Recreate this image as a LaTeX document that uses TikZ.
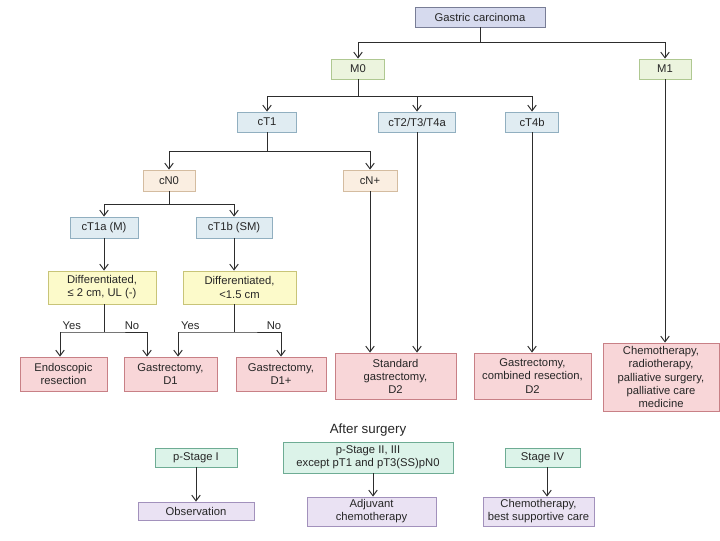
\documentclass[tikz,border=0pt]{standalone}
\usepackage{fontspec}
\setmainfont{Liberation Sans}
\usetikzlibrary{arrows.meta, positioning, calc}
\definecolor{linegray}{RGB}{45,45,45}
\definecolor{topfill}{RGB}{214,218,238}
\definecolor{topdraw}{RGB}{120,125,150}
\definecolor{mfill}{RGB}{236,244,222}
\definecolor{mdraw}{RGB}{175,200,145}
\definecolor{tfill}{RGB}{224,236,242}
\definecolor{tdraw}{RGB}{145,175,192}
\definecolor{nfill}{RGB}{250,238,225}
\definecolor{ndraw}{RGB}{212,188,160}
\definecolor{qfill}{RGB}{252,250,202}
\definecolor{qdraw}{RGB}{200,196,120}
\definecolor{rfill}{RGB}{248,214,216}
\definecolor{rdraw}{RGB}{200,128,134}
\definecolor{sfill}{RGB}{220,243,233}
\definecolor{sdraw}{RGB}{110,172,148}
\definecolor{pfill}{RGB}{234,226,243}
\definecolor{pdraw}{RGB}{162,145,188}

\begin{document}
\begin{tikzpicture}[
  x=0.025cm, y=-0.025cm,
  box/.style={line width=0.6pt, inner sep=1pt, align=center,
              font=\fontsize{8}{9.3}\selectfont, text=black!85},
  topbox/.style={box, draw=topdraw, fill=topfill},
  mbox/.style={box, draw=mdraw, fill=mfill},
  tbox/.style={box, draw=tdraw, fill=tfill},
  nbox/.style={box, draw=ndraw, fill=nfill},
  qbox/.style={box, draw=qdraw, fill=qfill},
  rbox/.style={box, draw=rdraw, fill=rfill},
  sbox/.style={box, draw=sdraw, fill=sfill},
  pbox/.style={box, draw=pdraw, fill=pfill},
  link/.style={draw=linegray, line width=0.7pt},
  arrow/.style={link, -{Straight Barb[length=4pt,width=6pt]}},
  yn/.style={font=\fontsize{8}{9}\selectfont, text=black!85, above, inner sep=1.5pt},
]
\useasboundingbox (0,0) rectangle (720,540);

%% Staging (top)
\node[topbox, minimum width=130*0.025cm, minimum height=20*0.025cm] (gastric) at (480,17) {Gastric carcinoma};
\node[mbox, minimum width=53*0.025cm, minimum height=20*0.025cm] (mzero) at (358,69) {M0};
\node[mbox, minimum width=52*0.025cm, minimum height=20*0.025cm] (mone) at (665,69) {M1};
\node[tbox, minimum width=59*0.025cm, minimum height=20*0.025cm] (ctone) at (267,122) {cT1};
\node[tbox, minimum width=77*0.025cm, minimum height=20*0.025cm] (cttwo) at (417,122) {cT2/T3/T4a};
\node[tbox, minimum width=53*0.025cm, minimum height=20*0.025cm] (ctfourb) at (532,122) {cT4b};
\node[nbox, minimum width=52*0.025cm, minimum height=21*0.025cm] (cnzero) at (169,180.5) {cN0};
\node[nbox, minimum width=54*0.025cm, minimum height=21*0.025cm] (cnplus) at (370,180.5) {cN+};
\node[tbox, minimum width=68*0.025cm, minimum height=21*0.025cm] (ctonea) at (104,227.5) {cT1a (M)};
\node[tbox, minimum width=76*0.025cm, minimum height=21*0.025cm] (ctoneb) at (234,227.5) {cT1b (SM)};
\node[qbox, minimum width=108*0.025cm, minimum height=33*0.025cm] (diffa) at (102,287.5) {Differentiated,\\≤ 2 cm, UL (-)};
\node[qbox, minimum width=113*0.025cm, minimum height=33*0.025cm] (diffb) at (239.5,287.5) {Differentiated,\\<1.5 cm};

%% Treatments
\node[rbox, minimum width=87*0.025cm, minimum height=34*0.025cm] (endo) at (63.5,374) {Endoscopic\\resection};
\node[rbox, minimum width=93*0.025cm, minimum height=34*0.025cm] (gastdone) at (170.5,374) {Gastrectomy,\\D1};
\node[rbox, minimum width=90*0.025cm, minimum height=34*0.025cm] (gastdplus) at (281,374) {Gastrectomy,\\D1+};
\node[rbox, minimum width=121*0.025cm, minimum height=46*0.025cm] (stdgast) at (395.5,376) {Standard\\gastrectomy,\\D2};
\node[rbox, minimum width=117*0.025cm, minimum height=46*0.025cm] (combres) at (532.5,376) {Gastrectomy,\\combined resection,\\D2};
\node[rbox, minimum width=116*0.025cm, minimum height=68*0.025cm] (chemo) at (661,377) {Chemotherapy,\\radiotherapy,\\palliative surgery,\\palliative care\\medicine};

%% After surgery
\node[font=\fontsize{9.5}{11}\selectfont, text=black!85] (after) at (368,430) {After surgery};
\node[sbox, minimum width=82*0.025cm, minimum height=19*0.025cm] (pstageone) at (196,457.5) {p-Stage I};
\node[sbox, minimum width=170*0.025cm, minimum height=31*0.025cm] (pstagetwo) at (368,457.5) {p-Stage II, III\\except pT1 and pT3(SS)pN0};
\node[sbox, minimum width=75*0.025cm, minimum height=19*0.025cm] (stagefour) at (542.5,457.5) {Stage IV};
\node[pbox, minimum width=116*0.025cm, minimum height=18*0.025cm] (observ) at (196,511) {Observation};
\node[pbox, minimum width=129*0.025cm, minimum height=29*0.025cm] (adjuv) at (371.5,511.5) {Adjuvant\\chemotherapy};
\node[pbox, minimum width=111*0.025cm, minimum height=29*0.025cm] (chemobsc) at (538.5,511.5) {Chemotherapy,\\best supportive care};

%% Junctions
\coordinate (jgas) at (480,42);
\coordinate (jmz) at (358,96);
\coordinate (jct) at (267,151);
\coordinate (jcn) at (169,204);
\coordinate (jda) at (104,332);
\coordinate (jdb) at (234,332);
\coordinate (yesa) at (60,332);
\coordinate (noa) at (147,332);
\coordinate (yesb) at (178,332);
\coordinate (nob) at (281,332);

%% Connectors
\draw[link] (gastric) -- (jgas);
\draw[arrow] (jgas) -| (mzero);
\draw[arrow] (jgas) -| (mone);
\draw[link] (mzero) -- (jmz);
\draw[arrow] (jmz) -| (ctone);
\draw[arrow] (jmz) -| (cttwo);
\draw[arrow] (jmz) -| (ctfourb);
\draw[link] (ctone) -- (jct);
\draw[arrow] (jct) -| (cnzero);
\draw[arrow] (jct) -| (cnplus);
\draw[link] (cnzero) -- (jcn);
\draw[arrow] (jcn) -| (ctonea);
\draw[arrow] (jcn) -| (ctoneb);
\draw[arrow] (ctonea) -- (ctonea |- diffa.north);
\draw[arrow] (ctoneb) -- (ctoneb |- diffb.north);
\draw[link] (diffa.south -| jda) -- (jda);
\draw[link] (yesa) -- node[yn, pos=0.27]{Yes} (jda) -- node[yn, pos=0.65]{No} (noa);
\draw[arrow] (yesa) -- (yesa |- endo.north);
\draw[arrow] (noa) -- (noa |- gastdone.north);
\draw[link] (diffb.south -| jdb) -- (jdb);
\draw[link] (yesb) -- node[yn, pos=0.22]{Yes} (jdb) -- node[yn, pos=0.85]{No} (nob);
\draw[arrow] (yesb) -- (yesb |- gastdone.north);
\draw[arrow] (nob) -- (nob |- gastdplus.north);
\draw[arrow] (cnplus.south) -- (cnplus.south |- stdgast.north);
\draw[arrow] (cttwo) -- (cttwo |- stdgast.north);
\draw[arrow] (ctfourb) -- (ctfourb |- combres.north);
\draw[arrow] (mone) -- (mone |- chemo.north);
\draw[arrow] (pstageone) -- (observ);
\draw[arrow] ($(pstagetwo.south)+(5,0)$) coordinate (ptwo) -- (ptwo |- adjuv.north);
\draw[arrow] ($(stagefour.south)+(4.5,0)$) coordinate (pfour) -- (pfour |- chemobsc.north);

\end{tikzpicture}
\end{document}
